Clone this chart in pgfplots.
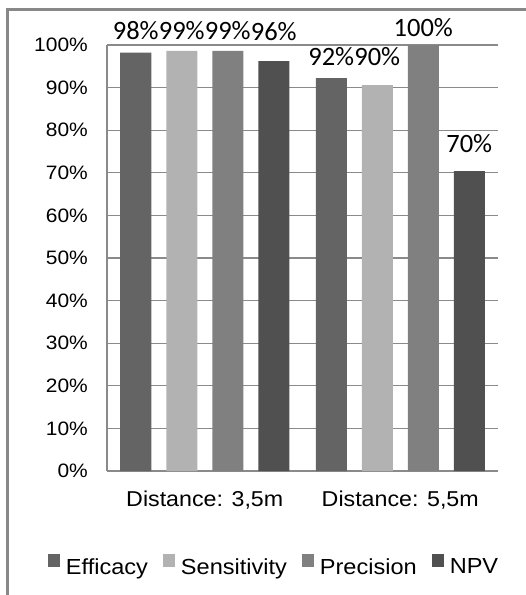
\documentclass[border=0pt]{standalone}
\usepackage{fontspec}
\setmainfont{Liberation Sans}[FakeStretch=1.08]
\newfontfamily\carlito{Carlito}
\usepackage{pgfplots}
\usepackage{pgfplotstable}
\pgfplotsset{compat=1.18}
\definecolor{effc}{HTML}{646464}
\definecolor{senc}{HTML}{B2B2B2}
\definecolor{prec}{HTML}{808080}
\definecolor{npvc}{HTML}{505050}
\definecolor{gridc}{HTML}{8A8A8A}
\definecolor{framec}{HTML}{888888}
\pgfplotstableread{
x y lab dy
0 98.2 98 12.7
1 92.2 92 13
}\eff
\pgfplotstableread{
x y lab dy
0 98.6 99 11
1 90.6 90 20
}\sen
\pgfplotstableread{
x y lab dy
0 98.6 99 11
1 100 100 8.3
}\pre
\pgfplotstableread{
x y lab dy
0 96.2 96 21
1 70.4 70 19
}\npv
\pgfplotsset{
  sqleg/.style={legend image code/.code={\fill[##1,draw=none] (0bp,0bp) rectangle (12bp,12.5bp);}},
  mybar/.style n args={2}{ybar, bar width=31bp, bar shift=#2bp, draw=none, fill=#1,
    point meta=\thisrow{lab},
    visualization depends on={\thisrow{dy} \as \dy},
    nodes near coords={\pgfmathprintnumber[fixed,precision=0]{\pgfplotspointmeta}\%},
    every node near coord/.append style={anchor=base, inner sep=0pt, xshift=#2bp, yshift=\dy bp,
      font=\carlito\fontsize{26.5bp}{28bp}\selectfont, text=black},
    sqleg},
}
\begin{document}
\begin{tikzpicture}
\draw[framec, line width=3bp] (7.5bp,-9.5bp) rectangle (560bp,-640bp);
\begin{axis}[
  at={(107bp,-471bp)}, anchor=south west,
  scale only axis, width=391bp, height=426bp,
  xmin=-0.5, xmax=1.5, ymin=0, ymax=100,
  enlargelimits=false, clip=false,
  xtick={0,1},
  xticklabels={Distance: 3{,}5m, Distance: 5{,}5m},
  ytick={0,10,...,100},
  yticklabel={\pgfmathprintnumber{\tick}\%},
  /pgf/number format/assume math mode=true,
  major tick length=0pt,
  axis x line*=bottom, axis y line*=left,
  axis line style={-, draw=gridc, line width=1.2bp},
  ymajorgrids, grid style={draw=gridc, line width=1.2bp},
  yticklabel style={anchor=east, inner sep=0pt, xshift=-19bp, font=\fontsize{19.4bp}{21bp}\selectfont},
  xticklabel style={anchor=base, inner sep=0pt, yshift=-35.7bp, font=\fontsize{21.5bp}{23bp}\selectfont},
  legend columns=4,
  legend style={at={(-0.151,-0.2207)}, anchor=west, draw=none, fill=none, inner sep=0pt, outer sep=0pt,
    font=\fontsize{21.8bp}{23bp}\selectfont,
    nodes={inner sep=0pt},
    /tikz/every odd column/.append style={column sep=6bp},
    /tikz/every even column/.append style={column sep=15bp}},
  legend cell align=left,
]
\addplot[mybar={effc}{-69}] table[x=x,y=y] {\eff};
\addlegendentry{Efficacy}
\addplot[mybar={senc}{-23}] table[x=x,y=y] {\sen};
\addlegendentry{Sensitivity}
\addplot[mybar={prec}{23}] table[x=x,y=y] {\pre};
\addlegendentry{Precision}
\addplot[mybar={npvc}{69}] table[x=x,y=y] {\npv};
\addlegendentry{NPV}
\end{axis}
\pgfresetboundingbox
\path[use as bounding box] (0,0) rectangle (526bp,-595bp);
\end{tikzpicture}
\end{document}
